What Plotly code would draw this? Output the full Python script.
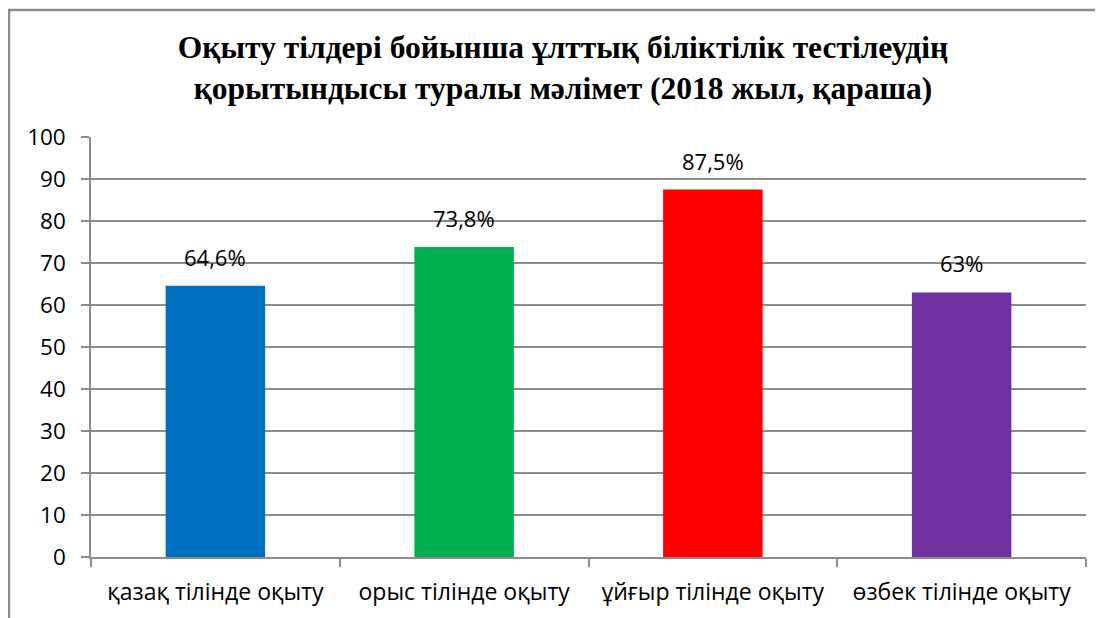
import plotly.graph_objects as go

categories = ["қазақ тілінде оқыту", "орыс тілінде оқыту", "ұйғыр тілінде оқыту", "өзбек тілінде оқыту"]
values = [64.6, 73.8, 87.5, 63]
labels = ["64,6%", "73,8%", "87,5%", "63%"]
colors = ["#0070C0", "#00B050", "#FF0000", "#7030A0"]
y_ticks = [0, 10, 20, 30, 40, 50, 60, 70, 80, 90, 100]

title_text = ("<b>Оқыту тілдері бойынша ұлттық біліктілік тестілеудің<br>"
              "қорытындысы туралы мәлімет (2018 жыл, қараша)</b>")

# page body has an 8px margin: figure drawn at (8, 8)
W, H = 1095, 610
ml, mr, mt, mb = 83, 17, 129, 61

fig = go.Figure()
fig.add_trace(go.Bar(x=categories, y=values, marker=dict(color=colors, line=dict(width=0)),
                     hoverinfo="skip"))

for c, v, t in zip(categories, values, labels):
    fig.add_annotation(x=c, y=v, text=t, showarrow=False, yanchor="bottom", yshift=12,
                       font=dict(family="Open Sans", size=22, color="#000000"))

axis_col = "#8C8C8C"
fig.update_layout(
    width=W, height=H,
    margin=dict(l=ml, r=mr, t=mt, b=mb, autoexpand=False),
    paper_bgcolor="white", plot_bgcolor="white",
    bargap=0.6, showlegend=False,
    title=dict(text=title_text, x=555 / W, xref="container", xanchor="center",
               y=1 - 50 / H, yref="container", yanchor="top",
               font=dict(family="Liberation Serif", size=31.5, color="#000000")),
    xaxis=dict(showline=True, linecolor=axis_col, linewidth=1.5, ticks="outside",
               tickson="boundaries", ticklen=8, tickcolor=axis_col, tickwidth=1.5,
               showgrid=False, ticklabelstandoff=14,
               tickfont=dict(family="Open Sans", size=23, color="#000000")),
    yaxis=dict(range=[0, 100], tickvals=y_ticks, showline=True, linecolor=axis_col,
               linewidth=1.5, ticks="outside", ticklen=8, tickcolor=axis_col, tickwidth=1.5,
               showgrid=True, gridcolor=axis_col, gridwidth=1.5, zeroline=False,
               tickfont=dict(family="Open Sans", size=22.5, color="#000000"),
               ticklabelstandoff=11),
)

# chart-area border (paper coords relative to plot area)
pw = W - ml - mr
ph = H - mt - mb
fig.add_shape(type="rect", xref="paper", yref="paper",
              x0=(1 - ml) / pw, x1=(W + 20 - ml) / pw,
              y0=-(H + 20 - mt - ph) / ph, y1=1 + (mt - 2) / ph,
              line=dict(color="#8C8C8C", width=2.5), fillcolor="rgba(0,0,0,0)", layer="below")

fig.write_html("out.html")
